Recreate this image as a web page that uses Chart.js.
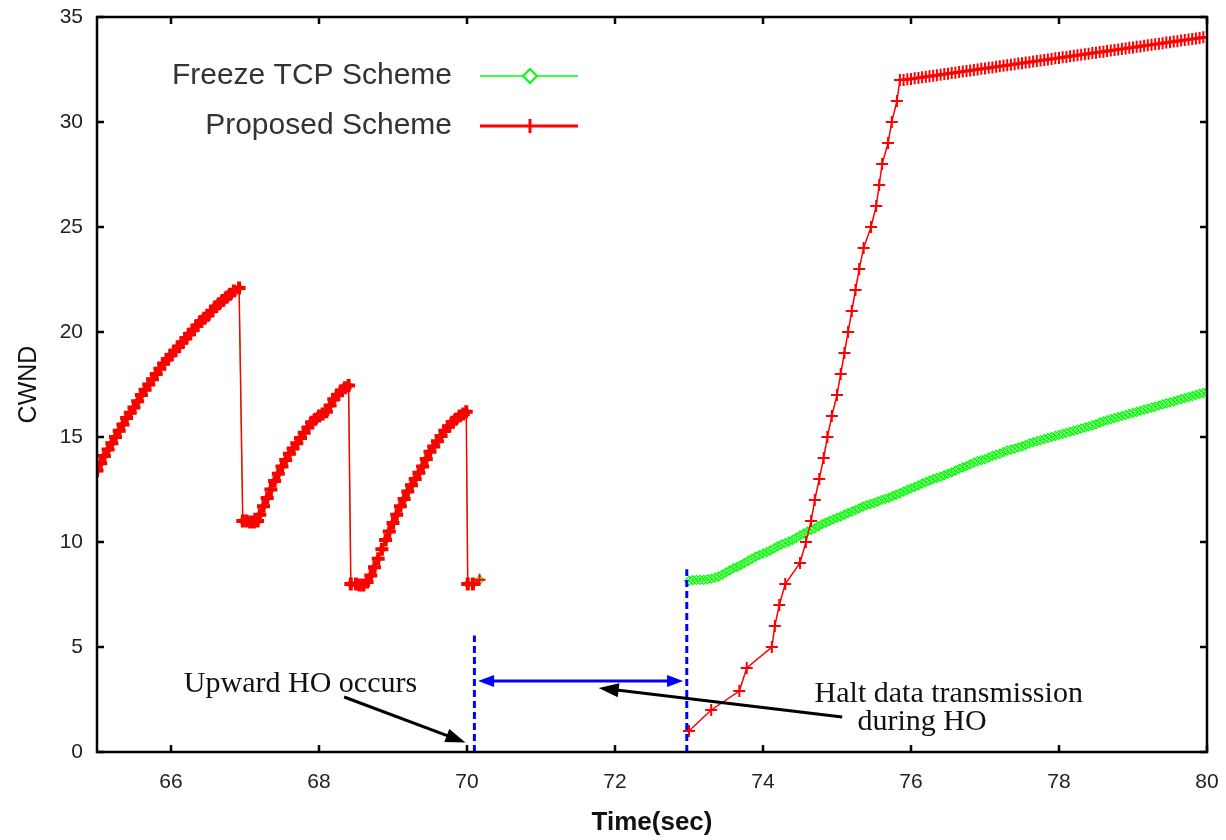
<!DOCTYPE html>
<html>
<head>
<meta charset="utf-8">
<script src="https://cdn.jsdelivr.net/npm/chart.js@4.4.1/dist/chart.umd.min.js"></script>
<style>
  html, body { margin: 0; padding: 0; background: #fff; }
  #wrap { width: 1226px; height: 840px; }
</style>
</head>
<body>
<div id="wrap"><canvas id="chart" width="1226" height="840"></canvas></div>
<script>
// shared sawtooth before the handover (both schemes are identical here)
const sawTime = [
  65.00, 65.05, 65.10, 65.15, 65.20, 65.25, 65.30, 65.35, 65.40, 65.45,
  65.50, 65.55, 65.60, 65.65, 65.70, 65.75, 65.80, 65.85, 65.90, 65.95,
  66.00, 66.05, 66.10, 66.15, 66.20, 66.25, 66.30, 66.35, 66.40, 66.45,
  66.50, 66.55, 66.60, 66.65, 66.70, 66.75, 66.80, 66.85, 66.92,
  66.97, 67.02, 67.07, 67.12, 67.17, 67.20, 67.25, 67.30, 67.35, 67.40,
  67.45, 67.50, 67.55, 67.60, 67.65, 67.70, 67.75, 67.80, 67.85, 67.90,
  67.95, 68.00, 68.05, 68.10, 68.15, 68.20, 68.25, 68.30, 68.35, 68.40,
  68.43, 68.50, 68.55, 68.60, 68.65, 68.70, 68.75, 68.80, 68.85, 68.90,
  68.95, 69.00, 69.05, 69.10, 69.15, 69.20, 69.25, 69.30, 69.35, 69.40,
  69.45, 69.50, 69.55, 69.60, 69.65, 69.70, 69.75, 69.80, 69.85, 69.90,
  69.95, 69.99, 70.01, 70.08, 70.17];
const sawCwnd = [
  13.40, 13.75, 14.10, 14.40, 14.70, 15.00, 15.30, 15.60, 15.90, 16.15,
  16.40, 16.70, 17.00, 17.25, 17.50, 17.75, 18.00, 18.25, 18.50, 18.70,
  18.90, 19.10, 19.30, 19.50, 19.70, 19.90, 20.10, 20.30, 20.50, 20.65,
  20.80, 21.00, 21.20, 21.35, 21.50, 21.65, 21.80, 21.95, 22.10,
  11.00, 11.00, 10.95, 10.95, 11.00, 11.30, 11.70, 12.10, 12.50, 12.90,
  13.25, 13.60, 13.90, 14.20, 14.45, 14.70, 14.95, 15.20, 15.45, 15.70,
  15.85, 16.00, 16.10, 16.20, 16.50, 16.80, 17.00, 17.20, 17.35, 17.45,
  8.00, 8.00, 7.95, 7.95, 8.10, 8.40, 8.80, 9.20, 9.65, 10.10,
  10.50, 10.90, 11.30, 11.70, 12.05, 12.40, 12.70, 13.00, 13.30, 13.60,
  13.95, 14.30, 14.55, 14.80, 15.05, 15.30, 15.50, 15.70, 15.85, 16.00,
  16.10, 16.20, 8.00, 8.00, 8.20];

// proposed scheme after the handover
const proposedTime = [
  73.00, 73.30, 73.68, 73.78, 74.12, 74.16, 74.22, 74.30, 74.50, 74.58, 74.65, 74.70,
  74.76, 74.82, 74.87, 74.93, 75.00, 75.05, 75.10, 75.15, 75.20, 75.25,
  75.30, 75.36, 75.46, 75.53, 75.57, 75.61, 75.69, 75.74, 75.81, 75.85,
  75.90, 75.95, 76.00, 76.05, 76.10, 76.15, 76.20, 76.25, 76.30, 76.35,
  76.40, 76.45, 76.50, 76.55, 76.60, 76.65, 76.70, 76.75, 76.80, 76.85,
  76.90, 76.95, 77.00, 77.05, 77.10, 77.15, 77.20, 77.25, 77.30, 77.35,
  77.40, 77.45, 77.50, 77.55, 77.60, 77.65, 77.70, 77.75, 77.80, 77.85,
  77.90, 77.95, 78.00, 78.05, 78.10, 78.15, 78.20, 78.25, 78.30, 78.35,
  78.40, 78.45, 78.50, 78.55, 78.60, 78.65, 78.70, 78.75, 78.80, 78.85,
  78.90, 78.95, 79.00, 79.05, 79.10, 79.15, 79.20, 79.25, 79.30, 79.35,
  79.40, 79.45, 79.50, 79.55, 79.60, 79.65, 79.70, 79.75, 79.80, 79.85,
  79.90, 79.95, 80.00];
const proposedCwnd = [
  1.0, 2.0, 2.9, 4.0, 5.0, 6.0, 7.0, 8.0, 9.0, 10.0, 11.0, 12.0,
  13, 14, 15, 16, 17, 18, 19, 20, 21, 22,
  23, 24, 25, 26, 27, 28, 29, 30, 31, 32,
  32.00, 32.03, 32.05, 32.08, 32.10, 32.13, 32.15, 32.18, 32.20, 32.23,
  32.25, 32.28, 32.30, 32.33, 32.35, 32.38, 32.40, 32.43, 32.45, 32.48,
  32.50, 32.53, 32.55, 32.58, 32.60, 32.63, 32.65, 32.68, 32.70, 32.73,
  32.75, 32.78, 32.80, 32.83, 32.85, 32.88, 32.90, 32.93, 32.95, 32.98,
  33.00, 33.03, 33.05, 33.08, 33.10, 33.13, 33.15, 33.18, 33.20, 33.23,
  33.25, 33.28, 33.30, 33.33, 33.35, 33.38, 33.40, 33.43, 33.45, 33.48,
  33.50, 33.53, 33.55, 33.58, 33.60, 33.63, 33.65, 33.68, 33.70, 33.73,
  33.75, 33.78, 33.80, 33.83, 33.85, 33.88, 33.90, 33.93, 33.95, 33.98,
  34.00, 34.03, 34.05];

// freeze TCP after the handover
const freezeTime = [
  73.00, 73.05, 73.10, 73.15, 73.20, 73.25, 73.30, 73.35, 73.40, 73.45,
  73.50, 73.55, 73.60, 73.65, 73.70, 73.75, 73.80, 73.85, 73.90, 73.95,
  74.00, 74.05, 74.10, 74.15, 74.20, 74.25, 74.30, 74.35, 74.40, 74.45,
  74.50, 74.55, 74.60, 74.65, 74.70, 74.75, 74.80, 74.85, 74.90, 74.95,
  75.00, 75.05, 75.10, 75.15, 75.20, 75.25, 75.30, 75.35, 75.40, 75.45,
  75.50, 75.55, 75.60, 75.65, 75.70, 75.75, 75.80, 75.85, 75.90, 75.95,
  76.00, 76.05, 76.10, 76.15, 76.20, 76.25, 76.30, 76.35, 76.40, 76.45,
  76.50, 76.55, 76.60, 76.65, 76.70, 76.75, 76.80, 76.85, 76.90, 76.95,
  77.00, 77.05, 77.10, 77.15, 77.20, 77.25, 77.30, 77.35, 77.40, 77.45,
  77.50, 77.55, 77.60, 77.65, 77.70, 77.75, 77.80, 77.85, 77.90, 77.95,
  78.00, 78.05, 78.10, 78.15, 78.20, 78.25, 78.30, 78.35, 78.40, 78.45,
  78.50, 78.55, 78.60, 78.65, 78.70, 78.75, 78.80, 78.85, 78.90, 78.95,
  79.00, 79.05, 79.10, 79.15, 79.20, 79.25, 79.30, 79.35, 79.40, 79.45,
  79.50, 79.55, 79.60, 79.65, 79.70, 79.75, 79.80, 79.85, 79.90, 79.95,
  80.00];
const freezeCwnd = [
  8.15, 8.18, 8.20, 8.20, 8.20, 8.22, 8.25, 8.30, 8.35, 8.45,
  8.55, 8.65, 8.75, 8.82, 8.90, 9.00, 9.10, 9.20, 9.30, 9.38,
  9.45, 9.52, 9.60, 9.70, 9.80, 9.88, 9.95, 10.02, 10.10, 10.20,
  10.30, 10.40, 10.50, 10.58, 10.65, 10.75, 10.85, 10.92, 11.00, 11.08,
  11.15, 11.22, 11.30, 11.38, 11.45, 11.52, 11.60, 11.68, 11.75, 11.80,
  11.85, 11.92, 12.00, 12.05, 12.10, 12.18, 12.25, 12.32, 12.40, 12.48,
  12.55, 12.62, 12.70, 12.78, 12.85, 12.92, 13.00, 13.05, 13.10, 13.18,
  13.25, 13.32, 13.40, 13.48, 13.55, 13.62, 13.70, 13.78, 13.85, 13.90,
  13.95, 14.02, 14.10, 14.15, 14.20, 14.28, 14.35, 14.40, 14.45, 14.50,
  14.55, 14.62, 14.70, 14.75, 14.80, 14.85, 14.90, 14.95, 15.00, 15.05,
  15.10, 15.15, 15.20, 15.25, 15.30, 15.35, 15.40, 15.45, 15.50, 15.55,
  15.60, 15.68, 15.75, 15.80, 15.85, 15.90, 15.95, 16.00, 16.05, 16.10,
  16.15, 16.20, 16.25, 16.30, 16.35, 16.40, 16.45, 16.50, 16.55, 16.60,
  16.65, 16.70, 16.75, 16.80, 16.85, 16.90, 16.95, 17.00, 17.05, 17.10,
  17.15];

const xTicks = [66, 68, 70, 72, 74, 76, 78, 80];
const yTicks = [0, 5, 10, 15, 20, 25, 30, 35];
const seriesNames = ['Proposed Scheme', 'Freeze TCP Scheme'];
const handoverStart = 70.1;   // blue dashed marker times
const handoverEnd = 72.97;

function toPoints(ts, vs) {
  return ts.map((t, i) => ({ x: t, y: vs[i] }));
}
const gap = [{ x: 71.5, y: null }];
const proposedData = toPoints(sawTime, sawCwnd).concat(gap, toPoints(proposedTime, proposedCwnd));
const freezeData = toPoints(sawTime, sawCwnd).concat(gap, toPoints(freezeTime, freezeCwnd));

// the packed sawtooth points look like a solid band in the original
const beforeHO = c => c.raw && c.raw.x < handoverStart;

function arrowHead(ctx, x1, y1, x2, y2, len, half) {
  const a = Math.atan2(y2 - y1, x2 - x1);
  ctx.beginPath();
  ctx.moveTo(x2, y2);
  ctx.lineTo(x2 - len * Math.cos(a) + half * Math.sin(a), y2 - len * Math.sin(a) - half * Math.cos(a));
  ctx.lineTo(x2 - len * Math.cos(a) - half * Math.sin(a), y2 - len * Math.sin(a) + half * Math.cos(a));
  ctx.closePath();
  ctx.fill();
}

function arrow(ctx, x1, y1, x2, y2, color, width, len, half) {
  const a = Math.atan2(y2 - y1, x2 - x1);
  ctx.strokeStyle = color;
  ctx.fillStyle = color;
  ctx.lineWidth = width;
  ctx.beginPath();
  ctx.moveTo(x1, y1);
  ctx.lineTo(x2 - len * 0.8 * Math.cos(a), y2 - len * 0.8 * Math.sin(a));
  ctx.stroke();
  arrowHead(ctx, x1, y1, x2, y2, len, half);
}

// frame, inward ticks, legend and the handover notes
const decor = {
  id: 'decor',
  afterDatasetsDraw(chart) {
    const { ctx, chartArea: a, scales: { x, y } } = chart;
    ctx.save();

    // blue dashed handover markers
    ctx.strokeStyle = '#0000ff';
    ctx.lineWidth = 3;
    ctx.setLineDash([7, 4]);
    ctx.beginPath();
    ctx.moveTo(x.getPixelForValue(handoverStart), y.getPixelForValue(0));
    ctx.lineTo(x.getPixelForValue(handoverStart), y.getPixelForValue(5.55));
    ctx.moveTo(x.getPixelForValue(handoverEnd), y.getPixelForValue(0));
    ctx.lineTo(x.getPixelForValue(handoverEnd), y.getPixelForValue(8.7));
    ctx.stroke();
    ctx.setLineDash([]);

    // blue double arrow
    const by = y.getPixelForValue(3.38);
    const bl = x.getPixelForValue(70.15), br = x.getPixelForValue(72.92);
    ctx.lineWidth = 3;
    ctx.beginPath();
    ctx.moveTo(bl + 10, by);
    ctx.lineTo(br - 10, by);
    ctx.stroke();
    ctx.fillStyle = '#0000ff';
    arrowHead(ctx, br, by, bl, by, 16, 6);
    arrowHead(ctx, bl, by, br, by, 16, 6);

    // black arrows
    arrow(ctx, x.getPixelForValue(68.34), y.getPixelForValue(2.62), x.getPixelForValue(69.98), y.getPixelForValue(0.45), '#000', 3, 20, 7);
    arrow(ctx, x.getPixelForValue(75.07), y.getPixelForValue(1.67), x.getPixelForValue(71.78), y.getPixelForValue(3.05), '#000', 3, 20, 7);

    // notes
    ctx.fillStyle = '#111';
    ctx.font = '30px "Liberation Serif", "Times New Roman", serif';
    ctx.textAlign = 'center';
    ctx.textBaseline = 'middle';
    ctx.fillText('Upward HO occurs', x.getPixelForValue(67.75), y.getPixelForValue(3.25));
    ctx.fillText('Halt data transmission', x.getPixelForValue(76.51), y.getPixelForValue(2.75));
    ctx.fillText('during HO', x.getPixelForValue(76.15), y.getPixelForValue(1.4));

    // legend
    ctx.font = '30px "Liberation Sans", Arial, sans-serif';
    ctx.fillStyle = '#333';
    ctx.textAlign = 'right';
    const lx = a.left + 355, sx1 = a.left + 383, sx2 = a.left + 481, mx = a.left + 433;
    const ly1 = a.top + 59, ly2 = a.top + 109;
    ctx.fillText(seriesNames[1], lx, ly1);
    ctx.fillText(seriesNames[0], lx, ly2);
    ctx.strokeStyle = '#00ff00';
    ctx.lineWidth = 1.5;
    ctx.beginPath();
    ctx.moveTo(sx1, ly1); ctx.lineTo(sx2, ly1);
    ctx.stroke();
    ctx.beginPath();
    ctx.moveTo(mx, ly1 - 7); ctx.lineTo(mx + 7, ly1); ctx.lineTo(mx, ly1 + 7); ctx.lineTo(mx - 7, ly1); ctx.closePath();
    ctx.fillStyle = '#fff';
    ctx.fill();
    ctx.lineWidth = 2;
    ctx.stroke();
    ctx.strokeStyle = '#ff0000';
    ctx.lineWidth = 3;
    ctx.beginPath();
    ctx.moveTo(sx1, ly2); ctx.lineTo(sx2, ly2);
    ctx.moveTo(mx, ly2 - 7); ctx.lineTo(mx, ly2 + 7);
    ctx.stroke();

    // frame and inward ticks
    ctx.strokeStyle = '#000';
    ctx.lineWidth = 2.5;
    ctx.strokeRect(a.left, a.top, a.right - a.left, a.bottom - a.top);
    ctx.beginPath();
    xTicks.forEach(v => {
      const px = x.getPixelForValue(v);
      ctx.moveTo(px, a.bottom); ctx.lineTo(px, a.bottom - 7);
      ctx.moveTo(px, a.top); ctx.lineTo(px, a.top + 7);
    });
    yTicks.forEach(v => {
      const py = y.getPixelForValue(v);
      ctx.moveTo(a.left, py); ctx.lineTo(a.left + 7, py);
      ctx.moveTo(a.right, py); ctx.lineTo(a.right - 7, py);
    });
    ctx.stroke();
    ctx.restore();
  }
};

const ctx = document.getElementById('chart').getContext('2d');
const chart = new Chart(ctx, {
  type: 'line',
  data: {
    datasets: [{
      label: seriesNames[0],
      data: proposedData,
      borderColor: '#ff0000',
      borderWidth: 1.5,
      pointStyle: 'cross',
      pointRadius: c => beforeHO(c) ? 6.5 : 6,
      pointBorderColor: '#ff0000',
      pointBorderWidth: c => beforeHO(c) ? 4 : 2,
      spanGaps: false
    }, {
      label: seriesNames[1],
      data: freezeData,
      borderColor: '#00ff00',
      borderWidth: 1,
      pointStyle: 'rectRot',
      pointRadius: 4.5,
      pointBorderColor: '#00ff00',
      pointBackgroundColor: 'rgba(255,255,255,0)',
      pointBorderWidth: 1.2,
      spanGaps: false
    }]
  },
  options: {
    responsive: false,
    animation: false,
    events: [],
    layout: { padding: { top: 17, right: 19, bottom: 2, left: 0 } },
    plugins: { legend: { display: false }, tooltip: { enabled: false } },
    scales: {
      x: {
        type: 'linear',
        min: 65,
        max: 80,
        afterBuildTicks: s => { s.ticks = xTicks.map(v => ({ value: v })); },
        afterFit: s => { s.height = 86; s.paddingLeft = 0; s.paddingRight = 0; },
        grid: { display: false, drawTicks: false },
        border: { display: false },
        ticks: { color: '#222', padding: 18, font: { family: '"Liberation Sans", Arial, sans-serif', size: 21 } },
        title: { display: true, text: 'Time(sec)', color: '#111', padding: { top: 0, bottom: 0 }, font: { family: '"Liberation Sans", Arial, sans-serif', size: 26, weight: 'bold' } }
      },
      y: {
        min: 0,
        max: 35,
        afterBuildTicks: s => { s.ticks = yTicks.map(v => ({ value: v })); },
        afterFit: s => { s.width = 97; s.paddingTop = 0; s.paddingBottom = 0; },
        grid: { display: false, drawTicks: false },
        border: { display: false },
        ticks: { color: '#222', padding: 14, font: { family: '"Liberation Sans", Arial, sans-serif', size: 21 } },
        title: { display: true, text: 'CWND', color: '#111', padding: { top: 14, bottom: 0 }, font: { family: '"Liberation Sans", Arial, sans-serif', size: 25 } }
      }
    }
  },
  plugins: [decor]
});
</script>
</body>
</html>
